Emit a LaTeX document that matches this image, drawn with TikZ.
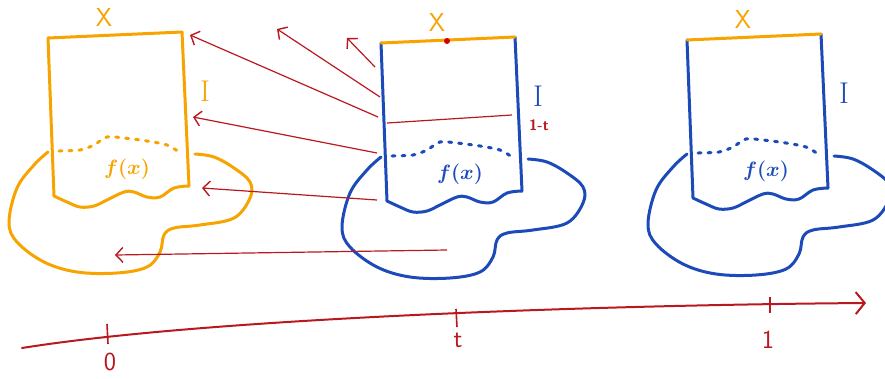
\documentclass[tikz,border=0pt]{standalone}
\usetikzlibrary{arrows.meta}
\definecolor{ora}{RGB}{247,163,0}
\definecolor{blu}{RGB}{28,75,185}
\definecolor{rd}{RGB}{185,25,30}
\tikzset{
  shapeline/.style={line width=3pt, line cap=round, line join=round},
  dotline/.style={line width=3pt, line cap=round, dash pattern=on 3pt off 7pt},
  redarrow/.style={rd, line width=1.2pt, -{Straight Barb[length=7pt,width=15pt,line width=1.4pt]}},
  lbl/.style={inner sep=0pt},
}
\newcommand\drawpanel[4]{%
\begin{scope}[shift={(#1)}]
  \draw[shapeline,#2] (381,43) -- (387,201);
  \draw[shapeline,#2] (515,37) -- (522,191);
  \draw[shapeline,#3] (381,43) -- (515,37);
  \draw[shapeline,#2] plot[smooth,tension=0.6] coordinates {(387,201) (400,207) (413,212) (427,211) (440,205) (457,197) (467,197) (480,202) (493,202) (507,193) (522,191)};
  \draw[dotline,#2] plot[smooth] coordinates {(392,156) (413,155) (427,150) (440,142) (457,143) (480,146) (500,150) (512,157)};
  \draw[shapeline,#2] plot[smooth,tension=0.6] coordinates {(381,157) (367,170) (350,193) (342,227) (350,247) (377,267) (410,277) (450,278) (480,272) (493,257) (497,240) (507,233) (533,230) (567,223) (583,203) (583,187) (567,173) (547,162) (528,159)};
  \node[lbl,#3,font=\sffamily\fontsize{26}{26}\selectfont] (#4X) at (437,22) {X};
  \node[lbl,#2,font=\fontsize{30}{30}\selectfont] (#4I) at (538,96) {I};
  \node[lbl,#2,font=\bfseries\fontsize{21}{21}\selectfont] (#4f) at (460,174) {$\boldsymbol{f(x)}$};
\end{scope}}
\usepackage{amsmath,bm}
\begin{document}
\begin{tikzpicture}[x=1pt,y=-1pt]
\useasboundingbox (0,0) rectangle (885,378);
\drawpanel{-333,-5}{ora}{ora}{L}
\drawpanel{0,0}{blu}{ora}{M}
\drawpanel{306,-3}{blu}{ora}{R}
% red dot and level line in middle panel
\fill[red!80!black] (447,41) circle (3pt);
\coordinate (h1) at (387,123);
\coordinate (h2) at (512,115);
\draw[rd, line width=1.2pt] (h1) -- (h2);
\node[lbl,rd,font=\sffamily\bfseries\fontsize{15}{15}\selectfont] (omt) at (539,125) {1-t};
% arrows
\coordinate (a1s) at (375,67);  \coordinate (a1e) at (347,38);
\coordinate (a2s) at (380,97);  \coordinate (a2e) at (277,29);
\coordinate (a3s) at (378,117); \coordinate (a3e) at (190,35);
\coordinate (a4s) at (377,153); \coordinate (a4e) at (193,117);
\coordinate (a5s) at (377,200); \coordinate (a5e) at (202,188);
\coordinate (a6s) at (447,250); \coordinate (a6e) at (115,255);
\foreach \i in {1,...,6} {\draw[redarrow] (a\i s) -- (a\i e);}
% timeline
\coordinate (t0) at (22,348);
\coordinate (t1) at (866,303);
\draw[rd, line width=2pt, line cap=round, -{Straight Barb[length=9pt,width=22pt,line width=2pt]}]
  (t0) .. controls (210,318) and (600,305) .. (t1);
\draw[rd, line width=1.6pt] (107,324) -- (108,344);
\draw[rd, line width=1.6pt] (456,309) -- (457,327);
\draw[rd, line width=1.6pt] (770,297) -- (770,313);
\node[lbl,rd,font=\sffamily\fontsize{26}{26}\selectfont] (l0) at (110,362) {0};
\node[lbl,rd,font=\sffamily\fontsize{26}{26}\selectfont] (lt) at (458,340) {t};
\node[lbl,rd,font=\sffamily\fontsize{26}{26}\selectfont] (l1) at (768,340) {1};
\end{tikzpicture}
\end{document}
